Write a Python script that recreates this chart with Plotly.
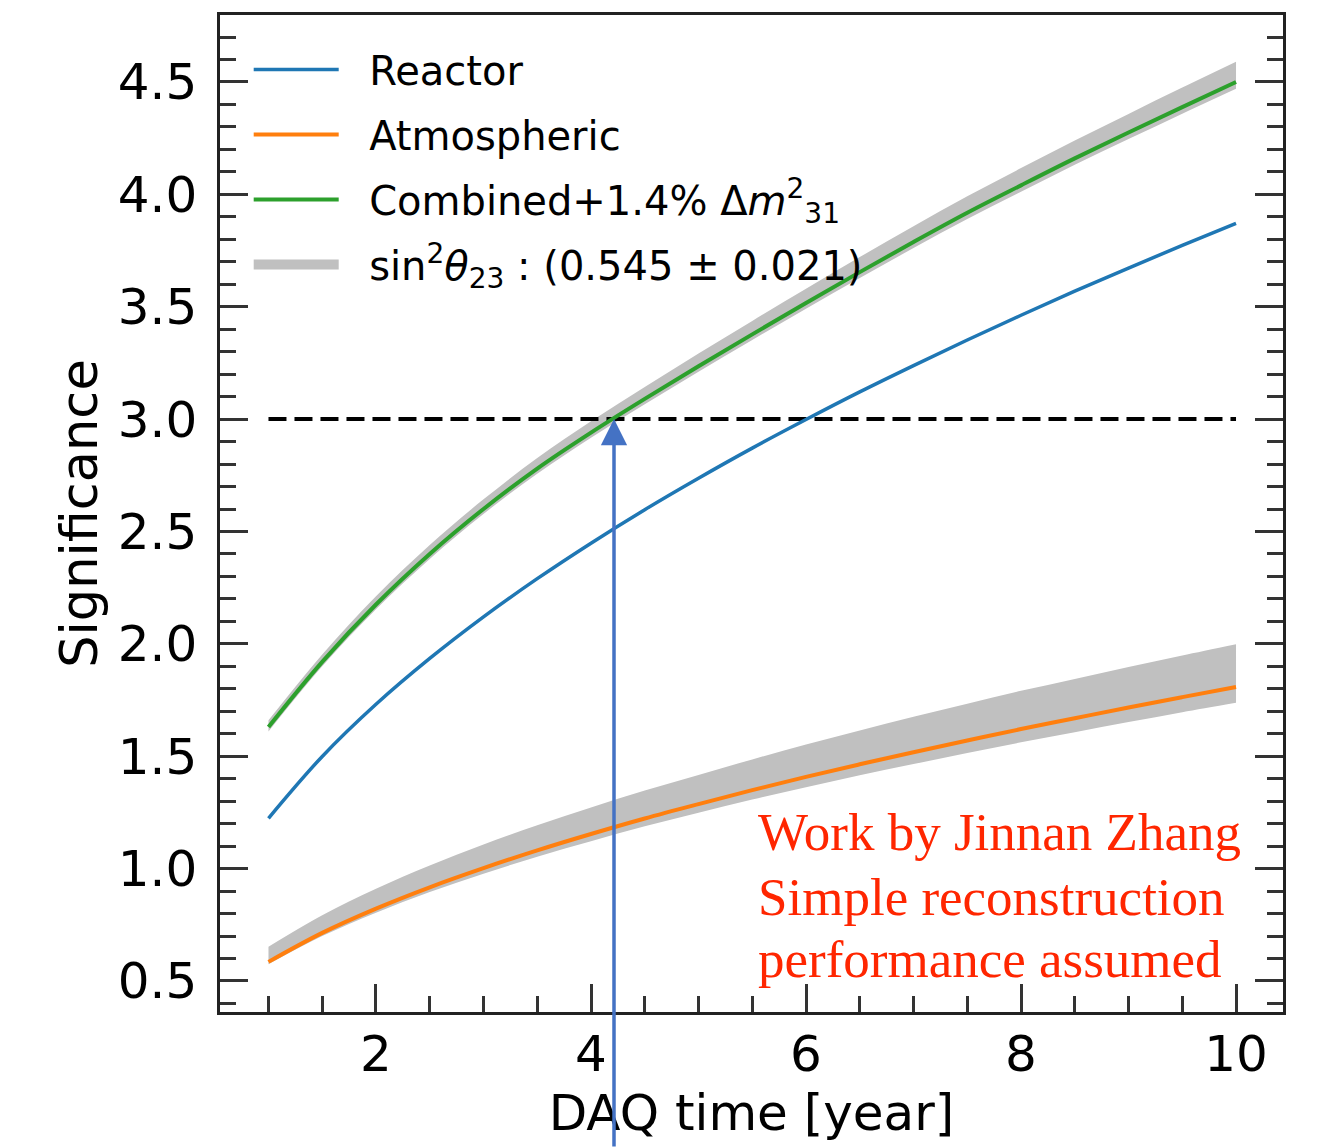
import plotly.graph_objects as go

# DAQ time in years and the significance curves sampled along it
years = [1, 1.5, 2, 2.5, 3, 3.5, 4, 4.5, 5, 5.5, 6, 6.5, 7, 7.5, 8, 8.5, 9, 9.5, 10]
reactor = [1.224, 1.499, 1.731, 1.935, 2.120, 2.290, 2.448, 2.597, 2.737, 2.871, 2.998,
           3.121, 3.238, 3.352, 3.462, 3.569, 3.672, 3.773, 3.871]
atmospheric = [0.585, 0.714, 0.822, 0.917, 1.002, 1.081, 1.154, 1.223, 1.287, 1.349, 1.408,
               1.464, 1.518, 1.570, 1.621, 1.669, 1.717, 1.763, 1.808]
combined = [1.63, 1.92, 2.175, 2.40, 2.60, 2.78, 2.94, 3.09, 3.235, 3.377, 3.517,
            3.654, 3.788, 3.918, 4.04, 4.16, 4.275, 4.388, 4.50]

# sin^2(theta23) uncertainty bands
atm_band_low = [0.575, 0.700, 0.804, 0.896, 0.977, 1.053, 1.122, 1.188, 1.248, 1.307, 1.362,
                1.415, 1.465, 1.514, 1.562, 1.607, 1.652, 1.696, 1.738]
atm_band_high = [0.652, 0.792, 0.910, 1.014, 1.107, 1.193, 1.272, 1.347, 1.417, 1.486, 1.552,
                 1.615, 1.676, 1.734, 1.791, 1.844, 1.897, 1.948, 1.998]
comb_band_low = [1.61, 1.90, 2.154, 2.378, 2.578, 2.757, 2.917, 3.066, 3.211, 3.352, 3.491,
                 3.628, 3.761, 3.89, 4.012, 4.132, 4.246, 4.359, 4.47]
comb_band_high = [1.66, 1.953, 2.212, 2.44, 2.643, 2.827, 2.99, 3.143, 3.292, 3.437, 3.58,
                  3.721, 3.858, 3.991, 4.117, 4.24, 4.358, 4.475, 4.59]

threshold = 3.0
threshold_years = [1, 10]
combined_reach = 4.214  # years needed by the combined analysis to reach 3 sigma

x_ticks = [2, 4, 6, 8, 10]
note_lines = ["Work by Jinnan Zhang", "Simple reconstruction", "performance assumed"]

BLUE = "#1f77b4"
ORANGE = "#ff7f0e"
GREEN = "#2ca02c"
BAND = "#c0c0c0"
FONT = "DejaVu Sans"
GAP = "\u00a0\u00a0"  # space between legend symbol and label

fig = go.Figure()


def add_band(low, high):
    fig.add_trace(go.Scatter(x=years, y=low, mode="lines", line=dict(width=0, shape="spline"),
                             showlegend=False, hoverinfo="skip"))
    fig.add_trace(go.Scatter(x=years, y=high, mode="lines", line=dict(width=0, shape="spline"),
                             fill="tonexty", fillcolor=BAND, showlegend=False, hoverinfo="skip"))


add_band(atm_band_low, atm_band_high)
add_band(comb_band_low, comb_band_high)

fig.add_trace(go.Scatter(x=threshold_years, y=[threshold] * 2, mode="lines",
                         line=dict(color="black", width=4, dash="18px,8px"),
                         showlegend=False, hoverinfo="skip"))

fig.add_trace(go.Scatter(x=years, y=reactor, mode="lines", name=GAP + "Reactor",
                         line=dict(color=BLUE, width=3.5, shape="spline"),
                         legendrank=1, legendgroup="r"))
fig.add_trace(go.Scatter(x=years, y=atmospheric, mode="lines", name=GAP + "Atmospheric",
                         line=dict(color=ORANGE, width=4, shape="spline"),
                         legendrank=2, legendgroup="a"))
fig.add_trace(go.Scatter(x=years, y=combined, mode="lines",
                         name=GAP + "Combined+1.4% Δ<i>m</i><sup>2</sup><sub>31</sub>",
                         line=dict(color=GREEN, width=4, shape="spline"),
                         legendrank=3, legendgroup="c"))
fig.add_trace(go.Scatter(x=[None], y=[None], mode="lines",
                         name=GAP + "sin<sup>2</sup><i>θ</i><sub>23</sub> : (0.545 ± 0.021)",
                         line=dict(color=BAND, width=26), legendrank=4, legendgroup="s"))

# arrow marking when the combined curve reaches 3 sigma
fig.add_annotation(x=combined_reach, y=threshold, xref="x", yref="y", text="",
                   showarrow=True, ax=0, ay=745, arrowhead=2, arrowsize=1.5,
                   arrowwidth=3.5, arrowcolor="#4472c4")

note_y = [1.162, 0.873, 0.597]
for line, ny in zip(note_lines, note_y):
    fig.add_annotation(x=5.535, y=ny, xref="x", yref="y", text=line, showarrow=False,
                       xanchor="left", yanchor="middle",
                       font=dict(family="Liberation Serif", size=53, color="#ff2600"))

axis_common = dict(
    showgrid=False, zeroline=False, showline=True, linecolor="#222", linewidth=2.5,
    ticks="inside", ticklen=28, tickwidth=2.5, tickcolor="#333",
    tickfont=dict(family=FONT, size=50, color="black"),
)

fig.update_xaxes(
    **axis_common, range=[0.549, 10.437], tickvals=x_ticks, mirror=True,
    minor=dict(dtick=0.5, tick0=0, ticks="inside", ticklen=16, tickwidth=2.5, tickcolor="#333"),
    ticklabelstandoff=-4,
    title=dict(text="DAQ time [year]", font=dict(family=FONT, size=50, color="black"), standoff=14),
)
fig.update_yaxes(
    **axis_common, range=[0.362, 4.798], tick0=0.5, dtick=0.5, tickformat=".1f", mirror="ticks",
    minor=dict(dtick=0.1, tick0=0, ticks="inside", ticklen=16, tickwidth=2.5, tickcolor="#333"),
    ticklabelstandoff=10,
    title=dict(text="Significance", font=dict(family=FONT, size=51, color="black"), standoff=4),
)

fig.update_layout(
    width=1321, height=1148,
    margin=dict(l=220, r=38, t=15, b=136),
    paper_bgcolor="white", plot_bgcolor="white",
    showlegend=True,
    legend=dict(x=0.027, y=0.978, xanchor="left", yanchor="top", bgcolor="rgba(0,0,0,0)",
                font=dict(family=FONT, size=40, color="black"), itemwidth=85,
                traceorder="grouped", tracegroupgap=10),
)

fig.write_html("out.html")
